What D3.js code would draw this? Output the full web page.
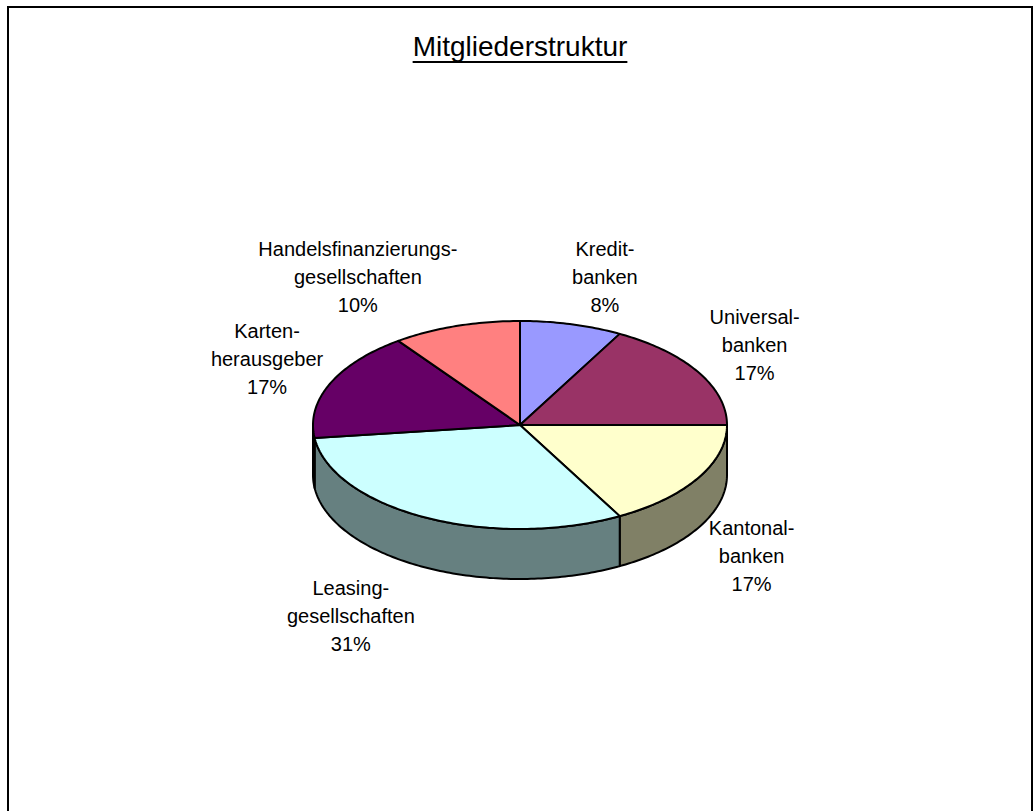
<!DOCTYPE html>
<html>
<head>
<meta charset="utf-8">
<script src="https://cdn.jsdelivr.net/npm/d3@7"></script>
<style>
body { margin: 0; background: #fff; }
text { font-family: "Liberation Sans", Arial, sans-serif; fill: #000; }
</style>
</head>
<body>
<div id="chart"></div>
<script>
// data
var categories = [
    ["Kredit-", "banken"],
    ["Universal-", "banken"],
    ["Kantonal-", "banken"],
    ["Leasing-", "gesellschaften"],
    ["Karten-", "herausgeber"],
    ["Handelsfinanzierungs-", "gesellschaften"]
];
var values = [8, 17, 17, 31, 17, 10];
var sliceColors = ["#9999FF", "#993366", "#FFFFCC", "#CCFFFF", "#660066", "#FF8080"];
var chartTitle = "Mitgliederstruktur";

var width = 1034, height = 811;
var cx = 520, cy = 425, rx = 207, ry = 104, depth = 50;

var svg = d3.select("#chart").append("svg")
    .attr("width", width)
    .attr("height", height);

svg.append("rect")
    .attr("x", 8).attr("y", 7)
    .attr("width", 1024).attr("height", 830)
    .attr("fill", "#fff")
    .attr("stroke", "#000")
    .attr("stroke-width", 2);

// title with underline
var title = svg.append("text")
    .attr("x", 520).attr("y", 56)
    .attr("text-anchor", "middle")
    .style("font-size", "28px")
    .text(chartTitle);
var tw = title.node().getComputedTextLength();
svg.append("line")
    .attr("x1", 520 - tw / 2).attr("x2", 520 + tw / 2)
    .attr("y1", 62).attr("y2", 62)
    .attr("stroke", "#000").attr("stroke-width", 2);

var total = d3.sum(values);
var pie = d3.pie().sort(null).value(d => d);
var slices = pie(values).map((d, i) => ({ arc: d, i: i }));

function pt(a, dy) {
    return [cx + rx * Math.sin(a), cy - ry * Math.cos(a) + (dy || 0)];
}
function arcPoints(a0, a1, dy) {
    var n = Math.max(2, Math.ceil(Math.abs(a1 - a0) * 60));
    return d3.range(n + 1).map(k => pt(a0 + (a1 - a0) * k / n, dy));
}
var line = d3.line();

function darker(c) {
    var r = d3.rgb(c);
    return d3.rgb(r.r * 0.5, r.g * 0.5, r.b * 0.5).formatHex();
}

// side walls (front half only)
var sideG = svg.append("g");
slices.forEach(function(s) {
    var lo = Math.max(s.arc.startAngle, Math.PI / 2);
    var hi = Math.min(s.arc.endAngle, 3 * Math.PI / 2);
    if (lo >= hi) return;
    var pts = arcPoints(lo, hi, 0).concat(arcPoints(hi, lo, depth));
    sideG.append("path")
        .attr("d", line(pts) + "Z")
        .attr("fill", darker(sliceColors[s.i]))
        .attr("stroke", "#000")
        .attr("stroke-width", 2)
        .attr("stroke-linejoin", "round");
});

// top faces
var topG = svg.append("g");
slices.forEach(function(s) {
    var pts = [[cx, cy]].concat(arcPoints(s.arc.startAngle, s.arc.endAngle, 0));
    topG.append("path")
        .attr("d", line(pts) + "Z")
        .attr("fill", sliceColors[s.i])
        .attr("stroke", "#000")
        .attr("stroke-width", 2)
        .attr("stroke-linejoin", "round");
});

// labels
var labelNudge = [[18, 4], [3, 0], [0, 3], [-47, 3], [-6, -3], [-79, 1]];
var lineGap = 28;
var labelG = svg.append("g");
slices.forEach(function(s) {
    var mid = (s.arc.startAngle + s.arc.endAngle) / 2;
    var lower = Math.cos(mid) < 0;
    var x = cx + Math.sin(mid) * rx * 1.3 + labelNudge[s.i][0];
    var y = cy - Math.cos(mid) * ry * 1.5 + (lower ? depth : 0) + labelNudge[s.i][1];
    var lines = categories[s.i].concat([Math.round(values[s.i] / total * 100) + "%"]);
    var t = labelG.append("text")
        .attr("text-anchor", "middle")
        .style("font-size", "20px");
    lines.forEach(function(l, k) {
        t.append("tspan")
            .attr("x", x)
            .attr("y", y + 6 + (k - 1) * lineGap)
            .text(l);
    });
});
</script>
</body>
</html>
